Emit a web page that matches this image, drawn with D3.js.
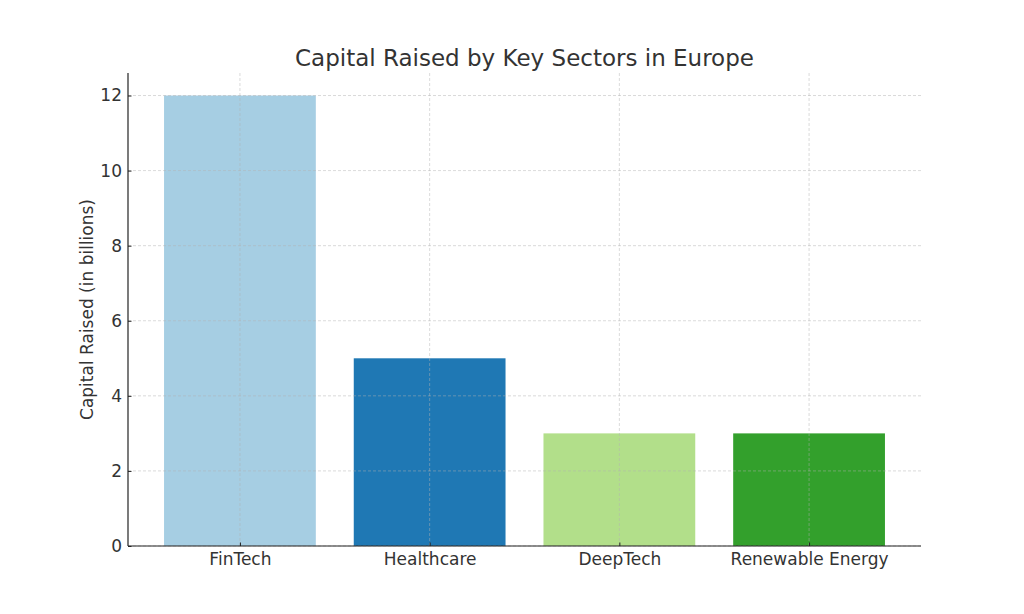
<!DOCTYPE html>
<html>
<head>
<meta charset="utf-8">
<script src="https://cdn.jsdelivr.net/npm/d3@7"></script>
<style>
  body { margin: 0; background: #fff; }
  text { font-family: "DejaVu Sans", sans-serif; }
</style>
</head>
<body>
<div id="chart"></div>
<script>
// Data
const sectors = ["FinTech", "Healthcare", "DeepTech", "Renewable Energy"];
const capital = [12, 5, 3, 3];
const barColors = ["#a6cee3", "#1f78b4", "#b2df8a", "#33a02c"];
const yTicks = [0, 2, 4, 6, 8, 10, 12];

const width = 1024;
const height = 614;
const margin = { top: 73, right: 103, bottom: 68, left: 128 };
const innerW = width - margin.left - margin.right;
const innerH = height - margin.top - margin.bottom;

const svg = d3.select("#chart")
  .append("svg")
  .attr("width", width)
  .attr("height", height);

const g = svg.append("g")
  .attr("transform", `translate(${margin.left},${margin.top})`);

// Scales (matplotlib-like: bar width 0.8, 5% margins)
const x = d3.scaleLinear().domain([-0.59, sectors.length - 1 + 0.59]).range([0, innerW]);
const y = d3.scaleLinear().domain([0, 12.6]).range([innerH, 0]);
const bw = x(0.8) - x(0);

// Bars
g.selectAll("rect.bar")
  .data(capital)
  .enter()
  .append("rect")
  .attr("class", "bar")
  .attr("x", (d, i) => x(i - 0.4))
  .attr("y", d => y(d))
  .attr("width", bw)
  .attr("height", d => y(0) - y(d))
  .attr("fill", (d, i) => barColors[i]);

// Grid (drawn above bars)
const grid = g.append("g").attr("stroke", "#b0b0b0").attr("stroke-opacity", 0.6)
  .attr("stroke-width", 0.8).attr("stroke-dasharray", "3,2");
grid.selectAll("line.h").data(yTicks).enter().append("line")
  .attr("x1", 0).attr("x2", innerW)
  .attr("y1", d => y(d)).attr("y2", d => y(d));
grid.selectAll("line.v").data(sectors).enter().append("line")
  .attr("x1", (d, i) => x(i)).attr("x2", (d, i) => x(i))
  .attr("y1", 0).attr("y2", innerH);

// Axes
const yAxis = g.append("g")
  .call(d3.axisLeft(y).tickValues(yTicks).tickSize(-3.5).tickPadding(6).tickFormat(d3.format("d")));
const xAxis = g.append("g")
  .attr("transform", `translate(0,${innerH})`)
  .call(d3.axisBottom(x).tickValues(d3.range(sectors.length)).tickSize(-3.5).tickPadding(7)
    .tickFormat(i => sectors[i]));

[yAxis, xAxis].forEach(a => {
  a.select(".domain").attr("stroke", "#222").attr("stroke-width", 1.2);
  a.selectAll(".tick line").attr("stroke", "#222");
  a.selectAll(".tick text").attr("fill", "#333").style("font-size", "17px");
});
yAxis.select(".domain").attr("d", `M0,${innerH}V0`);
xAxis.select(".domain").attr("d", `M0,0H${innerW}`);

// Axis label
svg.append("text")
  .attr("transform", `translate(93,${margin.top + innerH / 2}) rotate(-90)`)
  .attr("text-anchor", "middle")
  .attr("fill", "#333")
  .style("font-size", "17px")
  .text("Capital Raised (in billions)");

// Title
svg.append("text")
  .attr("x", margin.left + innerW / 2)
  .attr("y", 66)
  .attr("text-anchor", "middle")
  .attr("fill", "#333")
  .style("font-size", "23px")
  .text("Capital Raised by Key Sectors in Europe");
</script>
</body>
</html>
